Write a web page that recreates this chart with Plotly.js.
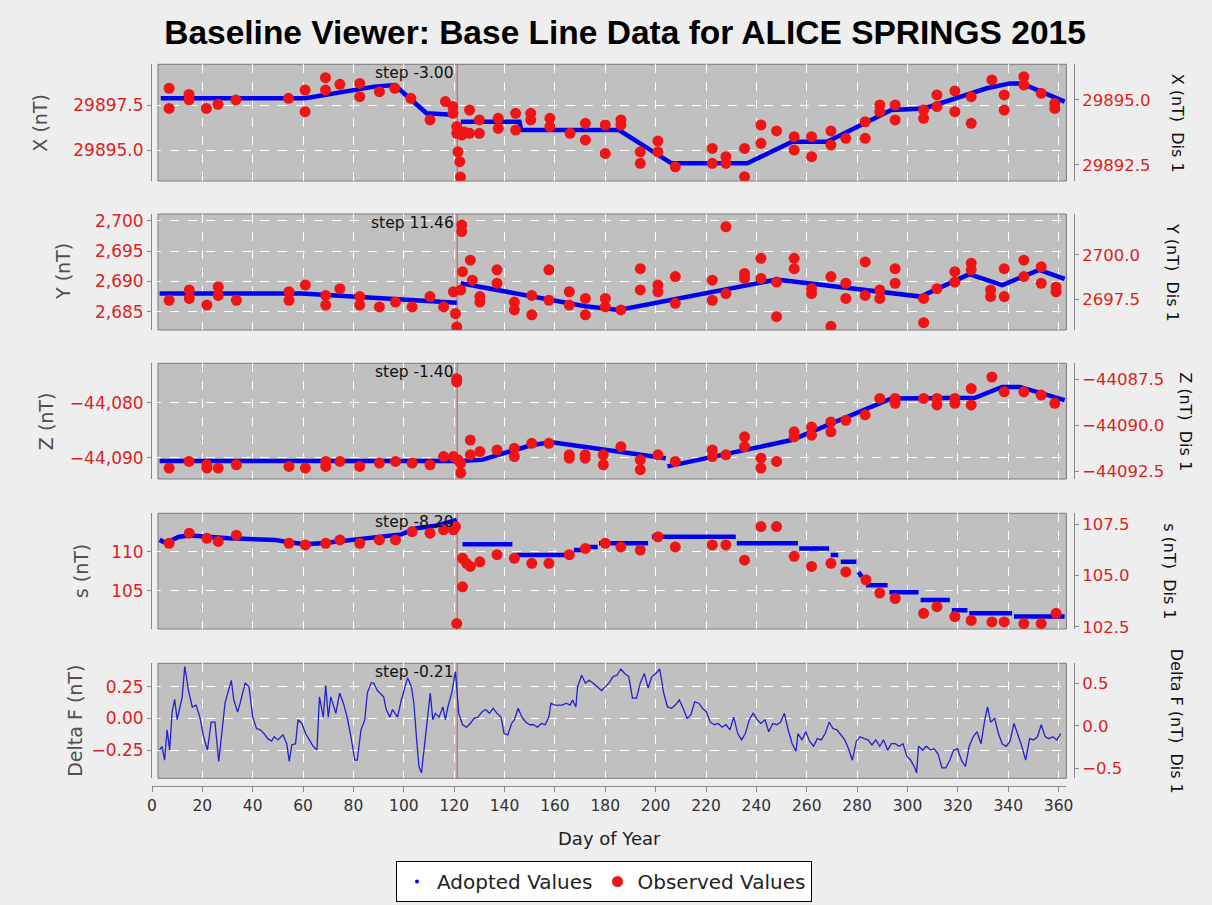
<!DOCTYPE html>
<html><head><meta charset="utf-8">
<script src="https://cdn.plot.ly/plotly-3.0.1.min.js"></script>
<style>html,body{margin:0;padding:0;background:#eeeeee;}</style>
</head><body><div id="chart" style="width:1212px;height:905px;"></div>
<script>
// ---------------- DATA ----------------
const STEP_DAY = 121.2;
const stepLabels = ["step -3.00", "step 11.46", "step -1.40", "step -8.20", "step -0.21"];
const xTickDays = [0,20,40,60,80,100,120,140,160,180,200,220,240,260,280,300,320,340,360];

// X (nT)
const xObserved = [[6.8,29898.43],[6.8,29897.31],[14.7,29898.09],[14.7,29897.78],[21.6,29897.31],[26.2,29897.54],[33.3,29897.78],
 [54.2,29897.87],[60.8,29898.33],[60.8,29897.13],[68.9,29899.02],[68.9,29898.33],[74.6,29898.65],[82.5,29898.70],[82.5,29897.96],
 [90.3,29898.24],[96.4,29898.43],[102.8,29897.87],[110.4,29896.67],[116.5,29897.69],[119.5,29897.41],[119.5,29897.04],
 [121.0,29896.30],[121.0,29895.93],[121.5,29894.90],[122.2,29894.35],[122.5,29893.50],[123.0,29895.83],[124.0,29896.0],
 [126.1,29897.22],[126.1,29895.93],[130.0,29896.67],[130.0,29895.93],[137.5,29896.76],[137.5,29896.20],[144.4,29897.04],[144.4,29896.11],
 [150.4,29897.04],[150.4,29896.67],[158.0,29896.76],[158.0,29896.30],[166.0,29895.93],[172.1,29896.48],[172.1,29895.56],
 [180.0,29896.39],[180.0,29894.81],[186.2,29896.67],[186.2,29896.39],[193.9,29894.90],[193.9,29894.26],[200.9,29895.50],[200.9,29894.90],
 [207.8,29894.07],[222.5,29895.09],[222.5,29894.26],[227.9,29894.63],[227.9,29894.26],[235.3,29895.09],[235.3,29893.52],
 [241.8,29896.39],[241.8,29895.37],[248.0,29896.06],[255.0,29895.74],[255.0,29895.00],[261.9,29895.74],[261.9,29894.63],
 [269.6,29896.06],[269.6,29895.28],[275.5,29895.65],[283.2,29896.57],[283.2,29895.65],[289.0,29897.50],[289.0,29897.13],
 [295.1,29897.50],[295.1,29896.67],[306.4,29897.22],[306.4,29896.76],[311.7,29898.06],[311.7,29897.41],[318.8,29898.28],[318.8,29897.13],
 [325.3,29897.96],[325.3,29896.48],[333.5,29898.89],[338.4,29898.06],[338.4,29897.22],[346.2,29899.07],[346.2,29898.61],
 [353.1,29898.15],[358.5,29897.59],[358.5,29897.31]];
const xAdopted = [[3.5,29897.87],[60.9,29897.87],[88.3,29898.52],[96.4,29898.61],[109.0,29897.04],[121.0,29896.94],null,
 [122.6,29896.57],[145.9,29896.57],[146.6,29896.11],[185.4,29896.11],[206.3,29894.26],[236.4,29894.26],[254.2,29895.46],
 [268.1,29895.46],[293.6,29897.22],[306.7,29897.31],[331.5,29898.43],[340.7,29898.70],[345.4,29898.70],[362.4,29897.69]];

// Y (nT)
const yObserved = [[6.8,2686.9],[14.8,2688.6],[14.8,2687.2],[21.8,2686.1],[26.3,2689.1],[26.3,2687.7],[33.5,2686.9],[54.4,2688.3],
 [54.4,2686.9],[60.9,2689.4],[69.0,2687.7],[69.0,2686.1],[74.6,2688.8],[82.5,2687.5],[82.5,2686.1],[90.3,2685.8],[96.7,2686.6],
 [103.3,2685.8],[110.4,2687.5],[115.8,2685.8],[119.7,2688.3],[120.5,2684.7],[121.0,2682.5],[122.6,2688.6],[123.0,2699.3],
 [123.0,2698.2],[123.3,2691.6],[126.4,2693.5],[127.2,2690.2],[130.2,2687.5],[130.2,2686.6],[137.0,2691.9],[137.0,2689.7],
 [143.9,2686.6],[143.9,2685.3],[150.8,2687.7],[150.8,2684.5],[157.6,2691.9],[157.6,2686.9],[165.7,2688.3],[165.7,2686.1],
 [172.1,2687.2],[172.1,2684.5],[180.0,2687.2],[180.0,2685.8],[186.2,2685.3],[193.9,2692.1],[193.9,2688.6],[200.9,2689.4],
 [200.9,2688.3],[207.8,2690.8],[207.8,2686.4],[222.5,2690.2],[222.5,2686.9],[227.9,2699.0],[227.9,2688.0],[235.3,2691.3],
 [235.3,2690.5],[241.8,2693.8],[241.8,2690.5],[248.0,2689.9],[248.0,2684.2],[255.0,2693.8],[255.0,2692.1],[261.9,2688.8],
 [261.9,2688.0],[269.6,2690.8],[269.6,2682.6],[275.5,2689.7],[275.5,2687.2],[283.2,2693.2],[283.2,2687.7],[289.0,2688.6],
 [289.0,2687.2],[295.1,2692.1],[295.1,2689.7],[306.4,2687.2],[306.4,2683.2],[311.7,2688.8],[318.8,2691.6],[318.8,2689.9],
 [325.3,2693.0],[325.3,2691.9],[333.0,2688.6],[333.0,2687.5],[338.4,2692.1],[338.4,2687.5],[346.2,2693.5],[346.2,2690.8],
 [353.1,2692.4],[353.1,2689.7],[359.0,2689.1],[359.0,2688.3]];
const yAdopted = [[3,2688.0],[59.4,2688.0],[121,2686.5],null,[122.6,2689.7],[172,2685.9],[185.4,2685.3],[248,2690.3],
 [305.2,2687.5],[324.5,2691.2],[337.6,2689.4],[352.3,2691.9],[362.4,2690.4]];

// Z (nT)
const zObserved = [[6.8,-44091.9],[14.7,-44090.7],[21.8,-44091.3],[21.8,-44091.9],[26.3,-44091.9],[33.5,-44091.3],[54.4,-44091.6],
 [60.9,-44091.9],[69.0,-44090.7],[69.0,-44091.6],[74.6,-44090.7],[82.5,-44091.6],[90.3,-44091.0],[96.7,-44090.7],[103.3,-44091.0],
 [110.4,-44091.3],[115.8,-44089.8],[119.7,-44089.8],[121.0,-44075.6],[121.0,-44076.2],[121.5,-44090.4],[122.6,-44091.0],[122.6,-44092.8],
 [126.4,-44086.8],[126.4,-44089.5],[130.2,-44088.9],[137.0,-44088.6],[143.9,-44088.3],[143.9,-44089.8],[150.8,-44087.4],
 [157.6,-44087.4],[165.7,-44089.5],[165.7,-44090.1],[172.0,-44089.5],[172.0,-44090.1],[179.2,-44089.5],[179.2,-44091.3],
 [186.2,-44088.0],[193.9,-44090.4],[193.9,-44092.2],[200.9,-44089.5],[207.8,-44090.7],[222.5,-44088.6],[222.5,-44089.8],
 [227.9,-44089.5],[235.3,-44086.2],[235.3,-44088.0],[241.8,-44090.1],[241.8,-44091.9],[248.0,-44090.7],[255.0,-44085.3],
 [255.0,-44086.2],[261.9,-44084.4],[261.9,-44085.9],[269.6,-44083.5],[269.6,-44085.3],[275.5,-44083.2],[283.2,-44082.2],
 [289.0,-44079.2],[295.1,-44079.2],[295.1,-44080.1],[306.4,-44079.2],[311.7,-44079.2],[311.7,-44080.4],[318.8,-44079.2],
 [318.8,-44080.1],[325.3,-44077.4],[325.3,-44080.4],[333.5,-44075.3],[338.4,-44078.0],[346.2,-44078.0],[353.1,-44078.6],
 [358.5,-44080.1]];
const zAdopted = [[3,-44090.6],[121,-44090.6],null,[122,-44090.6],[131,-44090.4],[150.8,-44087.7],[158.8,-44087.2],[204,-44090.1],null,
 [204.7,-44091.6],[254,-44086.8],[293.6,-44079.2],[326.8,-44079.1],[337.6,-44077.1],[344.6,-44077.1],[362.4,-44079.5]];

// s (nT)
const sObserved = [[6.8,111.07],[14.8,112.35],[21.8,111.7],[26.3,111.3],[33.5,112.1],[54.4,111.07],[60.9,110.85],[69.0,111.07],
 [74.6,111.5],[82.5,111.07],[90.3,111.5],[96.7,111.5],[103.3,112.56],[110.4,112.35],[115.8,112.78],[119.7,112.78],[120.5,113.2],
 [121.0,100.8],[123.3,109.15],[123.3,105.5],[124.9,108.5],[126.4,108.1],[130.2,108.7],[137.0,109.6],[143.9,109.15],[150.8,108.5],
 [157.6,108.5],[165.7,109.6],[172.1,110.4],[180.0,111.07],[186.2,110.6],[193.9,110.2],[200.9,111.9],[207.8,110.6],[222.5,110.85],
 [227.9,110.85],[235.3,108.9],[241.8,113.2],[248.0,113.2],[255.0,109.4],[261.9,108.1],[269.6,108.5],[275.5,107.4],[283.5,106.4],
 [289.0,104.7],[295.1,104.0],[306.4,102.1],[311.7,102.95],[318.8,101.7],[325.3,101.2],[333.5,101.0],[338.4,101.0],[346.2,100.8],
 [353.1,100.8],[359.0,102.1]];
const sAdopted = [[3,111.5],[5.5,111.1],[10.7,111.9],[15.2,112.05],[30.5,111.7],[48.7,111.5],[54.5,111.2],[60.9,110.94],[68.5,111.1],
 [76.1,111.4],[83.7,111.7],[91.4,111.9],[99.0,112.2],[105.1,113.0],[112.7,113.3],[121.0,114.06],null,
 [123.3,110.94],[143.1,110.94],null,[144.7,109.57],[166.8,109.57],null,[167.5,110.2],[171.0,110.2],null,[171.5,110.6],[177.0,110.6],null,
 [177.5,111.07],[197.0,111.07],null,[198.5,111.9],[231.8,111.9],null,[232.2,111.07],[256.5,111.07],null,[257.0,110.4],[268.9,110.4],null,
 [269.5,109.57],[272.5,109.57],null,[273.5,108.7],[279.7,108.7],null,[280.5,107.4],[281.8,106.8],null,[283.5,105.7],[292.1,105.7],null,
 [292.8,104.8],[304.4,104.8],null,[305.2,103.8],[316.8,103.8],null,[317.6,102.5],[323.8,102.5],null,[324.5,102.1],[341.5,102.1],null,
 [342.3,101.7],[362.4,101.7]];

// Delta F (nT)
const deltaF = [[3,-0.25],[4,-0.22],[5,-0.33],[6,-0.09],[7,-0.25],[8,0.05],[9,0.15],[10,-0.01],[11,0.08],[12,0.17],[13,0.41],
 [14.5,0.22],[16,0.09],[17.5,0.105],[19,0.01],[20.5,-0.145],[22,-0.25],[23.5,-0.03],[25,-0.03],[26.5,-0.34],[29,0.12],[30.5,0.22],
 [31.5,0.30],[32.5,0.145],[34,0.05],[35,0.12],[37,0.28],[38.5,0.25],[40,0.01],[41.5,-0.08],[43,-0.09],[44.5,-0.12],[46,-0.16],
 [47.5,-0.18],[48.5,-0.145],[50,-0.17],[52,-0.13],[53.5,-0.2],[54.5,-0.34],[55.5,-0.21],[57,-0.2],[58,-0.01],[59.5,-0.04],
 [61,-0.12],[62.5,-0.17],[64,-0.22],[65.5,-0.25],[66.5,0.17],[68,0.01],[69,0.26],[70,0.01],[71,0.17],[73,0.04],[74.5,0.20],
 [76,0.12],[77.5,0.01],[79,-0.145],[80.5,-0.33],[81.5,-0.33],[83,-0.09],[84.5,-0.01],[85.5,0.20],[87,0.28],[88,0.28],[89.5,0.22],
 [90.5,0.20],[92,0.17],[93,0.07],[94.5,0.01],[95.5,0.07],[97.5,0.01],[99,0.145],[100,0.22],[101.5,0.32],[103,0.25],[104,0.12],
 [105,-0.145],[106,-0.38],[107,-0.43],[108,-0.25],[109.5,0.01],[110.5,0.20],[111.5,-0.01],[112.5,0.04],[114,0.01],[115.5,0.09],
 [116.5,-0.01],[117.5,0.09],[119,0.20],[120.5,0.37],[121.8,0.04],[123.3,-0.05],[124.9,-0.07],[126.4,-0.04],[127.9,0.0],[129.4,0.01],
 [131,0.05],[132.5,0.07],[134,0.04],[135.5,0.08],[137,0.04],[138.6,0.01],[139.8,-0.12],[141.3,-0.13],[142.8,-0.04],[143.9,-0.01],
 [145.4,0.08],[146.9,0.01],[148.5,-0.03],[150,-0.05],[151.5,-0.05],[153,-0.07],[154.6,-0.04],[156.1,-0.05],[157.6,0.01],[158.4,0.12],
 [159.9,0.105],[161.4,0.105],[162.9,0.105],[164.5,0.12],[166,0.105],[167,0.145],[168.3,0.09],[169,0.25],[170.6,0.34],[172.1,0.28],
 [173.6,0.30],[175.1,0.28],[176.8,0.25],[178.5,0.22],[180,0.25],[181.5,0.28],[183.1,0.33],[184.6,0.34],[186.2,0.39],[187.7,0.355],
 [189.3,0.33],[190.8,0.16],[192.4,0.16],[193.9,0.28],[195.5,0.355],[197,0.24],[198.5,0.33],[200.1,0.355],[201.6,0.39],[203.2,0.20],
 [204.7,0.09],[206.3,0.08],[207.8,0.105],[209.4,0.145],[210.9,0.08],[212.5,0.0],[214,0.03],[215.5,0.13],[217.1,0.12],[218.6,0.08],
 [220.2,0.05],[221.7,-0.03],[223.3,-0.05],[224.8,-0.04],[226.4,-0.07],[227.9,-0.05],[229.5,-0.09],[231,0.01],[232.6,-0.12],
 [234.1,-0.17],[235.6,-0.12],[237.2,-0.01],[238.7,0.04],[240.3,-0.01],[241.8,-0.04],[243.4,-0.01],[244.9,-0.105],[246.5,-0.04],
 [248,-0.05],[249.6,-0.03],[251.1,0.04],[252.6,-0.09],[254.2,-0.2],[255.7,-0.26],[256.5,-0.12],[258.1,-0.17],[259.6,-0.105],
 [261.1,-0.18],[262.7,-0.22],[264.2,-0.16],[265.8,-0.17],[267.3,-0.12],[268.9,-0.03],[270.4,-0.08],[272,-0.09],[273.5,-0.13],
 [275.1,-0.17],[276.6,-0.24],[278.1,-0.33],[279.7,-0.18],[281.2,-0.145],[282.8,-0.16],[284.3,-0.17],[285.9,-0.21],[287.4,-0.17],
 [289,-0.22],[290.5,-0.17],[292.1,-0.25],[293.6,-0.2],[295.1,-0.2],[296.7,-0.22],[298.2,-0.2],[299.8,-0.30],[301.3,-0.33],
 [302.9,-0.39],[303.6,-0.43],[304.4,-0.22],[306,-0.25],[307.5,-0.22],[309.1,-0.25],[310.6,-0.24],[312.1,-0.28],[313.7,-0.39],
 [315.2,-0.39],[316.8,-0.33],[318.3,-0.25],[319.9,-0.24],[321.4,-0.33],[323,-0.38],[324.5,-0.22],[326.1,-0.145],[327.6,-0.105],
 [329.2,-0.2],[330.7,-0.01],[331.8,0.09],[333,-0.03],[334.6,0.0],[336.1,-0.12],[337.6,-0.2],[339.2,-0.22],[340.7,-0.18],[342.3,-0.04],
 [343.8,-0.12],[345.4,-0.22],[346.9,-0.33],[348.5,-0.16],[350,-0.17],[351.6,-0.145],[353.1,-0.05],[354.7,-0.145],[356.2,-0.16],
 [357.7,-0.145],[359.3,-0.17],[360.8,-0.12]];

// ---------------- LAYOUT HELPERS ----------------
const W = 1212, H = 905;
const FONT = "DejaVu Sans, Verdana, sans-serif";
const TFONT = "Liberation Sans, Arial, sans-serif";
const RED = '#dd1f1f', BLUE = '#0000ee', OBS = '#f01414';
const px = v => v / W, py = v => 1 - v / H;
const xDom = [px(152), px(1066.4)];
const panelX0 = px(158);
const panels = [
  {top: 64.3, bot: 181, left: [29893.28, 29899.76], ldt: 2.5, lfmt: '.1f', right: [29891.88, 29896.37], rdt: 2.5,
   obs: xObserved, adp: xAdopted, ltitle: 'X (nT)', ltx: 40, rtitle: 'X (nT)  Dis 1', rtx: 1177},
  {top: 214, bot: 330, left: [2682.0, 2701.1], ldt: 5, lfmt: ',d', right: [2695.77, 2702.3], rdt: 2.5,
   obs: yObserved, adp: yAdopted, ltitle: 'Y (nT)', ltx: 63, rtitle: 'Y (nT)  Dis 1', rtx: 1172},
  {top: 363.3, bot: 479, left: [-44093.9, -44072.8], ldt: 10, lfmt: ',d', right: [-44092.9, -44086.65], rdt: 2.5,
   obs: zObserved, adp: zAdopted, ltitle: 'Z (nT)', ltx: 46, rtitle: 'Z (nT)  Dis 1', rtx: 1186},
  {top: 513.3, bot: 629, left: [100.1, 114.9], ldt: 5, lfmt: 'd', right: [102.39, 108.04], rdt: 2.5,
   obs: sObserved, adp: sAdopted, ltitle: 's (nT)', ltx: 81, rtitle: 's (nT)  Dis 1', rtx: 1170},
  {top: 663.3, bot: 778.3, left: [-0.473, 0.435], ldt: 0.25, lfmt: '.2f', right: [-0.618, 0.735], rdt: 0.5,
   line: deltaF, ltitle: 'Delta F (nT)', ltx: 75, rtitle: 'Delta F (nT)  Dis 1', rtx: 1176}
];

const traces = [];
const layout = {
  width: W, height: H, margin: {l: 0, r: 0, t: 0, b: 0},
  paper_bgcolor: '#eeeeee', plot_bgcolor: 'rgba(0,0,0,0)',
  font: {family: FONT, color: '#222'},
  title: {text: '<b>Baseline Viewer: Base Line Data for ALICE SPRINGS 2015</b>', x: px(625), xanchor: 'center',
          y: py(32), yanchor: 'middle', font: {family: TFONT, size: 33.5, color: '#000'}},
  showlegend: true,
  legend: {orientation: 'h', x: px(604), xanchor: 'center', y: py(861), yanchor: 'top', bgcolor: '#ffffff',
           bordercolor: '#000000', borderwidth: 1, font: {family: FONT, size: 20, color: '#222'},
           itemwidth: 30, tracegroupgap: 0},
  xaxis: {domain: xDom, range: [0, 363.1], anchor: 'free', position: py(786), tickvals: xTickDays,
          ticks: 'outside', ticklen: 5, tickcolor: '#888', showline: true, linecolor: '#888', linewidth: 1,
          showgrid: true, gridcolor: '#ffffff', griddash: 'dash', gridwidth: 1, zeroline: false,
          tickfont: {family: FONT, size: 15.5, color: '#333'}},
  shapes: [], annotations: []
};

// legend-only marker for adopted values
traces.push({x: [null], y: [null], type: 'scatter', mode: 'markers', name: 'Adopted Values',
             marker: {color: BLUE, size: 4}, xaxis: 'x', yaxis: 'y'});

panels.forEach((p, i) => {
  const n = i + 1, ya = n === 1 ? 'y' : 'y' + n, yk = n === 1 ? 'yaxis' : 'yaxis' + n;
  const rn = n + 5, rya = 'y' + rn, rk = 'yaxis' + rn;
  const dom = [py(p.bot), py(p.top)];
  layout[yk] = {domain: dom, range: p.left, anchor: 'x', dtick: p.ldt, tick0: 0, tickformat: p.lfmt,
    ticks: 'outside', ticklen: 4, tickcolor: '#888', showline: true, linecolor: '#888', linewidth: 1,
    showgrid: true, gridcolor: '#ffffff', griddash: 'dash', gridwidth: 1, zeroline: false,
    tickfont: {family: FONT, size: 17, color: RED}};
  layout[rk] = {overlaying: ya, side: 'right', anchor: 'free', position: px(1074), range: p.right, dtick: p.rdt, tick0: 0,
    tickformat: '.1f', ticks: 'outside', ticklen: 4, tickcolor: '#888', showline: true, linecolor: '#888', linewidth: 1,
    showgrid: false, zeroline: false, tickfont: {family: FONT, size: 16.5, color: RED}};
  traces.push({x: [], y: [], type: 'scatter', mode: 'markers', xaxis: 'x', yaxis: rya, showlegend: false, hoverinfo: 'skip'});

  // panel background and border
  layout.shapes.push({type: 'rect', xref: 'paper', yref: 'paper', x0: panelX0, x1: xDom[1], y0: dom[0], y1: dom[1],
    fillcolor: '#c0c0c0', line: {color: '#7a7a7a', width: 1}, layer: 'below'});
  // step marker line
  layout.shapes.push({type: 'line', xref: 'x', yref: 'paper', x0: STEP_DAY, x1: STEP_DAY, y0: dom[0], y1: dom[1],
    line: {color: '#e04848', width: 1}, layer: 'below'});

  if (p.line) {
    traces.push({x: p.line.map(d => d[0]), y: p.line.map(d => d[1]), type: 'scatter', mode: 'lines',
      line: {color: '#2222cc', width: 1.3}, xaxis: 'x', yaxis: ya, showlegend: false});
  } else {
    traces.push({x: p.adp.map(d => d ? d[0] : null), y: p.adp.map(d => d ? d[1] : null), type: 'scatter', mode: 'lines',
      line: {color: BLUE, width: 4.5}, connectgaps: false, xaxis: 'x', yaxis: ya, showlegend: false});
    traces.push({x: p.obs.map(d => d[0]), y: p.obs.map(d => d[1]), type: 'scatter', mode: 'markers',
      name: 'Observed Values', marker: {color: OBS, size: 11}, xaxis: 'x', yaxis: ya, showlegend: n === 1});
  }

  // titles
  layout.annotations.push({text: p.ltitle, xref: 'paper', yref: 'paper', x: px(p.ltx), y: (dom[0] + dom[1]) / 2,
    textangle: -90, showarrow: false, xanchor: 'center', yanchor: 'middle', font: {family: FONT, size: 19, color: '#505050'}});
  layout.annotations.push({text: p.rtitle, xref: 'paper', yref: 'paper', x: px(p.rtx), y: (dom[0] + dom[1]) / 2,
    textangle: 90, showarrow: false, xanchor: 'center', yanchor: 'middle', font: {family: FONT, size: 16, color: '#111'}});
  layout.annotations.push({text: stepLabels[i], xref: 'x', yref: ya + ' domain', x: STEP_DAY, y: 1, xanchor: 'right',
    yanchor: 'top', xshift: -1, yshift: 2, showarrow: false, font: {family: FONT, size: 15.5, color: '#111'}});
});

layout.annotations.push({text: 'Day of Year', xref: 'paper', yref: 'paper', x: px(609), y: py(838), showarrow: false,
  xanchor: 'center', yanchor: 'middle', font: {family: FONT, size: 18, color: '#222'}});

Plotly.newPlot('chart', traces, layout, {displayModeBar: false, staticPlot: true});
</script>
</body></html>
